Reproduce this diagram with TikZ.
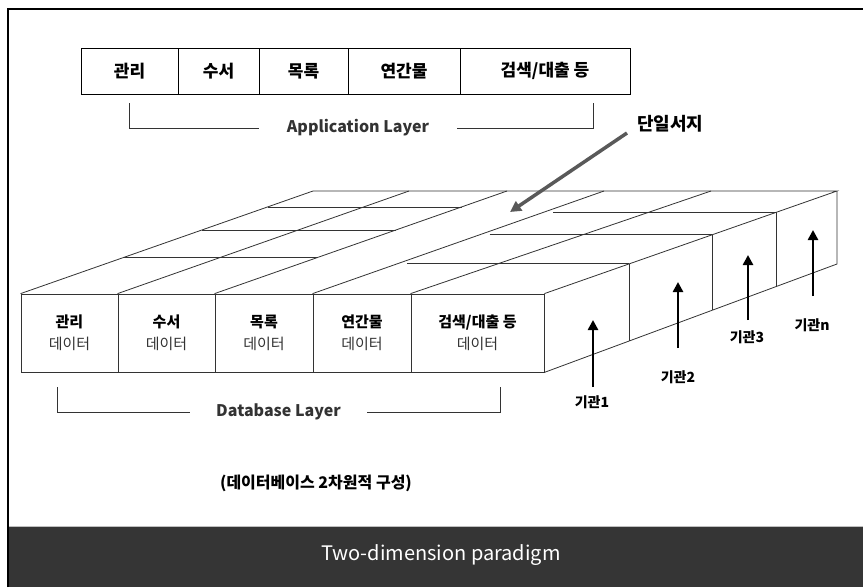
\documentclass[tikz,border=0pt]{standalone}
\usepackage{fontspec}
\setmainfont{Noto Sans CJK KR}
\usepackage{tikz}
\usetikzlibrary{positioning,calc,arrows.meta}
\definecolor{barback}{HTML}{353535}
\definecolor{linegray}{HTML}{333333}
\tikzset{
    appbox/.style={draw=black, line width=0.9pt, minimum height=46pt, inner sep=0pt, font=\fontsize{17}{17}\selectfont\bfseries},
    databox/.style={draw=linegray, line width=0.8pt, minimum height=78pt, inner sep=0pt, align=center, font=\fontsize{15}{22}\selectfont},
    edge line/.style={draw=linegray, line width=0.8pt},
    layer label/.style={fill=white, inner sep=0pt, minimum height=16pt, text=black!80, font=\fontsize{16}{16}\selectfont\bfseries},
    org label/.style={inner sep=1pt, font=\fontsize{14}{14}\selectfont\bfseries},
    org arrow/.style={line width=2.8pt, -{Triangle[length=10pt,width=10pt]}},
    pointer arrow/.style={draw=black!65, line width=3.5pt, -{Triangle[length=11pt,width=11pt]}}
}
\newcommand{\dataline}[1]{{\mdseries\color{black!80}#1}}

\begin{document}
\begin{tikzpicture}[x=1pt, y=-1pt]
    \useasboundingbox (0,0) rectangle (863,587);
    \fill[white] (0,0) rectangle (863,587);
    \fill[barback] (8,526) rectangle (863,587);
    \draw[black!25] (8,526) -- (863,526);
    \draw[line width=2pt] (8,587) -- (8,9) -- (863,9);

    % application layer
    \node[appbox, minimum width=97pt] (app1) at (129.5,71) {관리};
    \node[appbox, minimum width=81pt] (app2) at (218.5,71) {수서};
    \node[appbox, minimum width=89pt] (app3) at (303.5,71) {목록};
    \node[appbox, minimum width=112pt] (app4) at (404,71) {연간물};
    \node[appbox, minimum width=170pt] (app5) at (545,71) {검색/대출 등};

    \coordinate (appL) at (129,103);
    \coordinate (appR) at (593,103);
    \node[layer label, minimum width=198pt] (applayer) at (358,128) {Application Layer};
    \draw[edge line] (appL) |- (applayer.west);
    \draw[edge line] (applayer.east) -| (appR);

    % database layer, front
    \node[databox, minimum width=97pt] (db1) at (69.5,333) {\textbf{관리}\\\dataline{데이터}};
    \node[databox, minimum width=97pt] (db2) at (166.5,333) {\textbf{수서}\\\dataline{데이터}};
    \node[databox, minimum width=98pt] (db3) at (264,333) {\textbf{목록}\\\dataline{데이터}};
    \node[databox, minimum width=98pt] (db4) at (362,333) {\textbf{연간물}\\\dataline{데이터}};
    \node[databox, minimum width=133pt] (db5) at (477.5,333) {\textbf{검색/대출 등}\\\dataline{데이터}};

    % top and side faces
    \coordinate (b0) at (313,191);
    \coordinate (b1) at (409,191);
    \coordinate (b2) at (507,191);
    \coordinate (b3) at (604,191);
    \coordinate (b4) at (711,191);
    \coordinate (b5) at (837,191);
    \coordinate (bb) at (837,264);

    \draw[edge line] (db1.north west) -- (b0);
    \draw[edge line] (db2.north west) -- (b1);
    \draw[edge line] (db3.north west) -- (b2);
    \draw[edge line] (db4.north west) -- (b3);
    \draw[edge line] (db5.north west) -- (b4);
    \draw[edge line] (db5.north east) -- (b5) -- (b0);
    \draw[edge line] (db5.south east) -- (bb) -- (b5);

    \draw[edge line] ($(db5.north east)!0.29!(b5)$) -- ($(db5.south east)!0.29!(bb)$);
    \draw[edge line] ($(db5.north east)!0.573!(b5)$) -- ($(db5.south east)!0.573!(bb)$);
    \draw[edge line] ($(db5.north east)!0.792!(b5)$) -- ($(db5.south east)!0.792!(bb)$);

    \draw[edge line, shorten <=10pt] ($(db4.north west)!0.29!(b3)$) -- ($(db5.north east)!0.29!(b5)$);
    \draw[edge line, shorten <=10pt] ($(db4.north west)!0.573!(b3)$) -- ($(db5.north east)!0.573!(b5)$);
    \draw[edge line, shorten <=10pt] ($(db4.north west)!0.792!(b3)$) -- ($(db5.north east)!0.792!(b5)$);

    \draw[edge line] ($(db1.north west)!0.35!(b0)$) -- ($(db3.north west)!0.35!(b2)$);
    \draw[edge line] ($(db1.north west)!0.62!(b0)$) -- ($(db3.north west)!0.62!(b2)$);
    \draw[edge line] ($(db1.north west)!0.845!(b0)$) -- ($(db3.north west)!0.845!(b2)$);

    \coordinate (dbL) at (57,387);
    \coordinate (dbR) at (500,387);
    \node[layer label, minimum width=177pt] (dblayer) at (278.5,412) {Database Layer};
    \draw[edge line] (dbL) |- (dblayer.west);
    \draw[edge line] (dblayer.east) -| (dbR);

    % single record
    \node[anchor=south west, inner xsep=10pt, inner ysep=1pt, font=\fontsize{18}{18}\selectfont\bfseries] (single) at (627,133) {단일서지};
    \coordinate (singletip) at (510,212);
    \draw[pointer arrow] (single.south west) -- (singletip);

    % institutions
    \node[org label] (org1) at (592,402) {기관1};
    \node[org label] (org2) at (678,377) {기관2};
    \node[org label] (org3) at (747,337) {기관3};
    \node[org label] (orgn) at (812,325) {기관n};
    \coordinate (org1s) at (593,387);
    \coordinate (org1t) at (593,320);
    \coordinate (org2s) at (678,348);
    \coordinate (org2t) at (678,282);
    \coordinate (org3s) at (748,320);
    \coordinate (org3t) at (748,255);
    \coordinate (orgns) at (813,296);
    \coordinate (orgnt) at (813,230);
    \draw[org arrow] (org1s) -- (org1t);
    \draw[org arrow] (org2s) -- (org2t);
    \draw[org arrow] (org3s) -- (org3t);
    \draw[org arrow] (orgns) -- (orgnt);

    \node[font=\fontsize{16}{16}\selectfont\bfseries] (caption) at (316,483) {(데이터베이스 2차원적 구성)};

    \node[text=white, font=\fontsize{20}{20}\selectfont] (title) at (441,555) {Two-dimension paradigm};
\end{tikzpicture}
\end{document}
